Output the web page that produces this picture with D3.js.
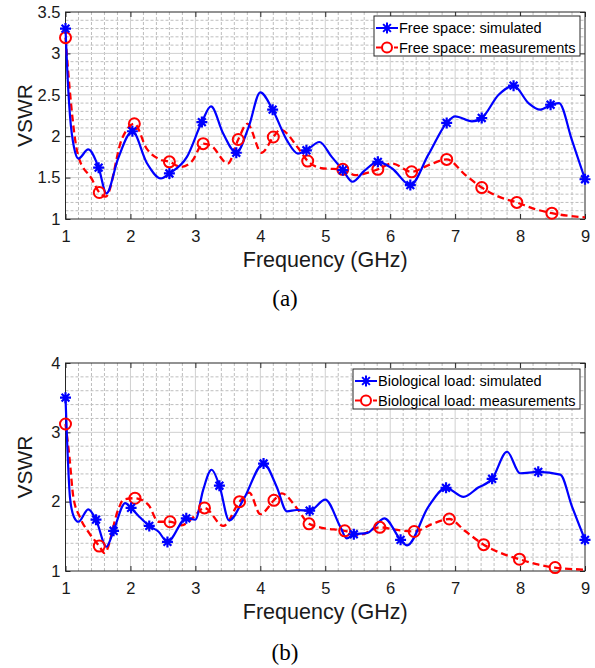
<!doctype html>
<html>
<head>
<meta charset="utf-8">
<title>VSWR</title>
<script src="https://d3js.org/d3.v7.min.js"></script>
<style>
  body { margin: 0; background: #fff; }
  svg { display: block; font-family: "Liberation Sans", Arial, sans-serif; }
</style>
</head>
<body>
<script>
// ---- data ----
var freqTicks = [1, 2, 3, 4, 5, 6, 7, 8, 9];
var vswrTicksA = [1, 1.5, 2, 2.5, 3, 3.5];
var vswrTicksB = [1, 2, 3, 4];

// (a) free space, simulated
var fsSimF = [1.00,1.03,1.07,1.13,1.20,1.35,1.51,1.63,1.81,2.03,2.25,2.47,2.60,2.87,3.10,3.24,3.43,3.63,3.82,4.00,4.19,4.41,4.58,4.71,4.91,5.10,5.27,5.42,5.60,5.81,6.03,6.31,6.59,6.87,7.00,7.26,7.41,7.67,7.90,8.13,8.31,8.47,8.60,8.80,9.00];
var fsSimV = [3.30,2.75,2.24,1.87,1.73,1.84,1.62,1.31,1.73,2.06,1.68,1.49,1.55,1.75,2.17,2.36,2.03,1.80,2.11,2.53,2.32,1.95,1.79,1.83,1.93,1.75,1.59,1.45,1.58,1.69,1.61,1.41,1.78,2.16,2.24,2.18,2.22,2.50,2.61,2.40,2.32,2.38,2.40,1.95,1.48];
var fsSimMarks = [1.00,1.51,2.03,2.60,3.10,3.63,4.19,4.71,5.27,5.81,6.31,6.87,7.41,7.90,8.47,9.00];

// (a) free space, measured
var fsMeaF = [1.00,1.07,1.15,1.20,1.40,1.52,1.62,1.87,2.06,2.25,2.45,2.60,2.78,2.95,3.12,3.25,3.50,3.66,3.80,4.02,4.20,4.31,4.58,4.73,4.97,5.27,5.46,5.81,6.03,6.33,6.59,6.87,7.16,7.41,7.67,7.95,8.23,8.49,9.00];
var fsMeaV = [3.19,2.52,1.95,1.75,1.49,1.32,1.27,1.97,2.15,1.85,1.72,1.69,1.63,1.70,1.91,1.88,1.67,1.96,2.15,1.80,1.99,2.08,1.86,1.70,1.61,1.60,1.53,1.60,1.67,1.57,1.65,1.72,1.53,1.38,1.27,1.20,1.12,1.07,1.02];
var fsMeaMarks = [1.00,1.52,2.06,2.60,3.12,3.66,4.20,4.73,5.27,5.81,6.33,6.87,7.41,7.95,8.49];

// (b) biological load, simulated
var blSimF = [1.00,1.03,1.07,1.13,1.20,1.35,1.47,1.63,1.74,1.92,2.01,2.14,2.29,2.43,2.57,2.86,3.00,3.12,3.25,3.37,3.52,3.74,4.05,4.25,4.41,4.56,4.76,5.00,5.23,5.33,5.44,5.65,5.91,6.16,6.26,6.59,6.86,7.13,7.35,7.57,7.80,8.00,8.28,8.62,8.80,9.00];
var blSimV = [3.50,2.75,2.05,1.78,1.71,1.89,1.74,1.35,1.58,1.98,1.91,1.78,1.65,1.57,1.42,1.76,1.74,2.17,2.46,2.23,1.73,2.03,2.55,2.22,1.86,1.88,1.87,2.03,1.64,1.47,1.53,1.55,1.76,1.45,1.37,1.93,2.20,2.07,2.20,2.33,2.72,2.41,2.43,2.39,1.93,1.45];
var blSimMarks = [1.00,1.47,1.74,2.01,2.29,2.57,2.86,3.37,4.05,4.76,5.44,6.16,6.86,7.57,8.28,9.00];

// (b) biological load, measured
var blMeaF = [1.00,1.06,1.12,1.22,1.37,1.52,1.60,1.81,1.89,2.07,2.28,2.43,2.61,2.79,2.95,3.14,3.43,3.68,3.83,4.00,4.21,4.33,4.56,4.75,4.97,5.30,5.52,5.84,6.05,6.37,6.65,6.91,7.15,7.44,7.70,7.99,8.25,8.54,9.00];
var blMeaV = [3.12,2.65,2.07,1.78,1.54,1.36,1.26,1.88,2.03,2.05,1.95,1.71,1.71,1.66,1.76,1.91,1.65,2.00,2.13,1.82,2.02,2.12,1.91,1.68,1.62,1.58,1.52,1.63,1.60,1.57,1.68,1.75,1.58,1.38,1.26,1.17,1.10,1.05,1.02];
var blMeaMarks = [1.00,1.52,2.07,2.61,3.14,3.68,4.21,4.75,5.30,5.84,6.37,6.91,7.44,7.99,8.54];

// ---- layout ----
var width = 595, height = 668;
var svg = d3.select("body").append("svg")
    .attr("width", width)
    .attr("height", height);

var BLUE = "#0000ff", RED = "#ff0000";

function zip(f, v) {
    return f.map(function(d, i) { return [d, v[i]]; });
}
function pick(f, v, marks) {
    return marks.map(function(m) { return [m, v[f.indexOf(m)]]; });
}

var starPath = (function() {
    var r = 5.5, p = "";
    [0, 45, 90, 135].forEach(function(a) {
        var t = a * Math.PI / 180, dx = r * Math.cos(t), dy = r * Math.sin(t);
        p += "M" + (-dx) + "," + (-dy) + "L" + dx + "," + dy;
    });
    return p;
})();

function drawPanel(opt) {
    var left = 65.5, right = 585;
    var w = right - left, h = opt.bottom - opt.top;
    var g = svg.append("g").attr("transform", "translate(" + left + "," + opt.top + ")");

    var x = d3.scaleLinear().domain([1, 9]).range([0, w]);
    var y = d3.scaleLinear().domain(opt.yDomain).range([h, 0]);

    // minor grid
    var minorX = d3.range(1, 41).map(function(i) { return 1 + i * 0.2; })
        .filter(function(d) { return Math.abs(d - Math.round(d)) > 1e-6 && d < 9; });
    var nMinY = Math.round((opt.yDomain[1] - opt.yDomain[0]) / opt.minorStep);
    var minorY = d3.range(1, nMinY).map(function(i) { return opt.yDomain[0] + i * opt.minorStep; })
        .filter(function(d) { return opt.yTicks.every(function(t) { return Math.abs(t - d) > 1e-6; }); });

    g.append("g").selectAll("line").data(minorX).enter().append("line")
        .attr("x1", x).attr("x2", x).attr("y1", 0).attr("y2", h)
        .attr("stroke", "#bebebe").attr("stroke-width", 1).attr("stroke-dasharray", "3,2");
    g.append("g").selectAll("line").data(minorY).enter().append("line")
        .attr("y1", y).attr("y2", y).attr("x1", 0).attr("x2", w)
        .attr("stroke", "#bebebe").attr("stroke-width", 1).attr("stroke-dasharray", "3,2");

    // major grid
    g.append("g").selectAll("line").data(freqTicks.slice(1, -1)).enter().append("line")
        .attr("x1", x).attr("x2", x).attr("y1", 0).attr("y2", h)
        .attr("stroke", "#d0d0d0").attr("stroke-width", 1);
    g.append("g").selectAll("line").data(opt.yTicks.slice(1, -1)).enter().append("line")
        .attr("y1", y).attr("y2", y).attr("x1", 0).attr("x2", w)
        .attr("stroke", "#d0d0d0").attr("stroke-width", 1);

    // axes (ticks inward, on all four sides)
    var fmt = d3.format("~g");
    var ax = g.append("g").attr("transform", "translate(0," + h + ")")
        .call(d3.axisBottom(x).tickValues(freqTicks).tickFormat(fmt).tickSizeInner(-5).tickSizeOuter(0).tickPadding(11));
    var ay = g.append("g")
        .call(d3.axisLeft(y).tickValues(opt.yTicks).tickFormat(fmt).tickSizeInner(-5).tickSizeOuter(0).tickPadding(5));
    g.append("g")
        .call(d3.axisTop(x).tickValues(freqTicks).tickFormat("").tickSizeInner(-5).tickSizeOuter(0));
    g.append("g").attr("transform", "translate(" + w + ",0)")
        .call(d3.axisRight(y).tickValues(opt.yTicks).tickFormat("").tickSizeInner(-5).tickSizeOuter(0));
    g.selectAll(".domain").remove();
    g.selectAll(".tick line").attr("stroke", "#262626");
    [ax, ay].forEach(function(a) {
        a.selectAll("text").attr("font-size", 16.5).attr("fill", "#1a1a1a")
            .attr("font-family", "'Liberation Sans', Arial, sans-serif");
    });

    g.append("rect").attr("width", w).attr("height", h)
        .attr("fill", "none").attr("stroke", "#262626").attr("stroke-width", 1);

    // series
    var line = d3.line()
        .x(function(d) { return x(d[0]); })
        .y(function(d) { return y(d[1]); })
        .curve(d3.curveMonotoneX);

    g.append("path").datum(zip(opt.meaF, opt.meaV))
        .attr("d", line).attr("fill", "none")
        .attr("stroke", RED).attr("stroke-width", 2.3).attr("stroke-dasharray", "7,4");
    g.append("path").datum(zip(opt.simF, opt.simV))
        .attr("d", line).attr("fill", "none")
        .attr("stroke", BLUE).attr("stroke-width", 2.2);

    g.append("g").selectAll("circle").data(pick(opt.meaF, opt.meaV, opt.meaMarks)).enter().append("circle")
        .attr("cx", function(d) { return x(d[0]); })
        .attr("cy", function(d) { return y(d[1]); })
        .attr("r", 5.5).attr("fill", "none").attr("stroke", RED).attr("stroke-width", 2);
    g.append("g").selectAll("path").data(pick(opt.simF, opt.simV, opt.simMarks)).enter().append("path")
        .attr("transform", function(d) { return "translate(" + x(d[0]) + "," + y(d[1]) + ")"; })
        .attr("d", starPath).attr("stroke", BLUE).attr("stroke-width", 2.2);

    // labels
    svg.append("text")
        .attr("transform", "translate(32," + (opt.top + h / 2) + ") rotate(-90)")
        .attr("text-anchor", "middle").attr("font-size", 21).attr("fill", "#1a1a1a")
        .text("VSWR");
    svg.append("text")
        .attr("x", left + w / 2).attr("y", opt.bottom + 48)
        .attr("text-anchor", "middle").attr("font-size", 21.5).attr("fill", "#1a1a1a")
        .text("Frequency (GHz)");
    svg.append("text")
        .attr("x", 285).attr("y", opt.captionY)
        .attr("text-anchor", "middle").attr("font-size", 23)
        .attr("font-family", "'Liberation Serif', 'Times New Roman', serif")
        .text(opt.caption);

    // legend
    var lg = svg.append("g").attr("transform", "translate(" + opt.legX + "," + opt.legY + ")");
    lg.append("rect").attr("width", opt.legW).attr("height", 40)
        .attr("fill", "#fff").attr("stroke", "#262626").attr("stroke-width", 1);
    var rows = [
        { label: opt.labels[0], color: BLUE, dash: null, mark: "star" },
        { label: opt.labels[1], color: RED, dash: "6,3", mark: "circle" }
    ];
    rows.forEach(function(r, i) {
        var cy = 12 + i * 19.5;
        lg.append("line").attr("x1", 2).attr("x2", 24).attr("y1", cy).attr("y2", cy)
            .attr("stroke", r.color).attr("stroke-width", 2).attr("stroke-dasharray", r.dash);
        if (r.mark === "star") {
            lg.append("path").attr("transform", "translate(13," + cy + ")")
                .attr("d", starPath).attr("stroke", r.color).attr("stroke-width", 2);
        } else {
            lg.append("circle").attr("cx", 13).attr("cy", cy).attr("r", 5)
                .attr("fill", "#fff").attr("stroke", r.color).attr("stroke-width", 2);
        }
        lg.append("text").attr("x", 25).attr("y", cy + 5)
            .attr("font-size", 14.5).attr("fill", "#000").text(r.label);
    });
}

drawPanel({
    top: 12, bottom: 219, yDomain: [1, 3.5], yTicks: vswrTicksA, minorStep: 0.1,
    simF: fsSimF, simV: fsSimV, simMarks: fsSimMarks,
    meaF: fsMeaF, meaV: fsMeaV, meaMarks: fsMeaMarks,
    labels: ["Free space: simulated", "Free space: measurements"],
    legX: 374, legY: 16, legW: 206,
    caption: "(a)", captionY: 306
});

drawPanel({
    top: 363, bottom: 571, yDomain: [1, 4], yTicks: vswrTicksB, minorStep: 0.2,
    simF: blSimF, simV: blSimV, simMarks: blSimMarks,
    meaF: blMeaF, meaV: blMeaV, meaMarks: blMeaMarks,
    labels: ["Biological load: simulated", "Biological load: measurements"],
    legX: 353, legY: 369, legW: 227,
    caption: "(b)", captionY: 660
});
</script>
</body>
</html>
